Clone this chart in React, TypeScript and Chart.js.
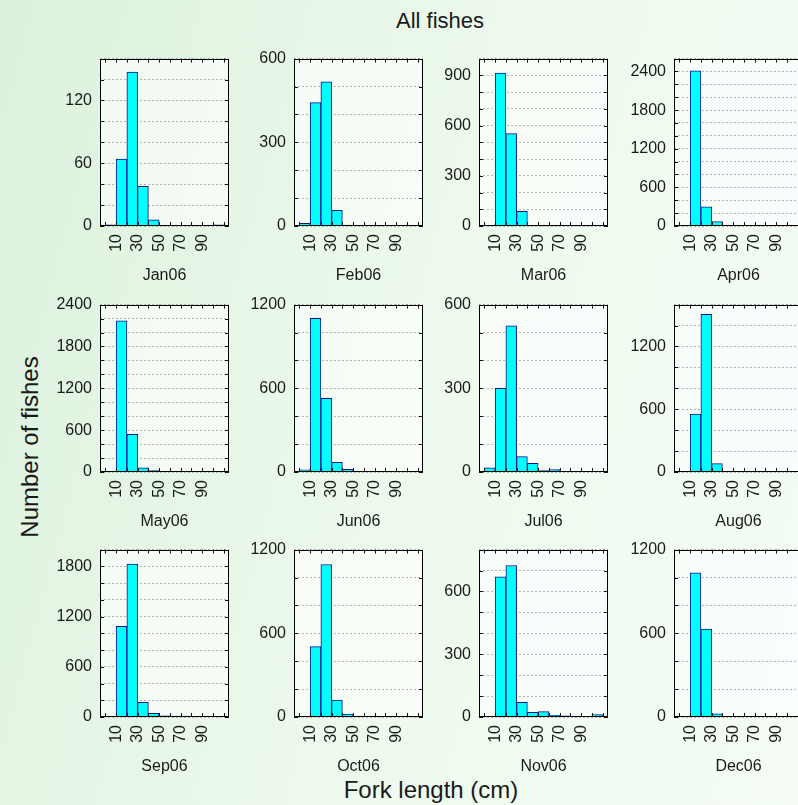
import { useEffect, useRef } from 'react';
import { Chart, registerables } from 'chart.js';

Chart.register(...registerables);

// ---------- data ----------
const binCenters = [5, 15, 25, 35, 45, 55, 65, 75, 85, 95, 105];
const xTickLabels = [10, 30, 50, 70, 90];
const xTickMarks = [0, 10, 20, 30, 40, 50, 60, 70, 80, 90, 100, 110];

const months = ['Jan06', 'Feb06', 'Mar06', 'Apr06', 'May06', 'Jun06', 'Jul06', 'Aug06', 'Sep06', 'Oct06', 'Nov06', 'Dec06'];

const jan06 = [1, 64, 147, 38, 6, 0, 0, 0, 0, 0, 1];
const feb06 = [10, 442, 517, 56, 3, 0, 0, 0, 0, 0, 0];
const mar06 = [1, 913, 552, 87, 4, 3, 0, 0, 0, 0, 0];
const apr06 = [0, 2410, 297, 70, 5, 2, 2, 1, 1, 0, 0];
const may06 = [0, 2167, 540, 60, 22, 8, 3, 0, 0, 0, 0];
const jun06 = [16, 1102, 528, 70, 19, 5, 2, 1, 0, 0, 0];
const jul06 = [15, 300, 524, 55, 31, 5, 9, 2, 2, 2, 1];
const aug06 = [0, 554, 1506, 80, 3, 1, 3, 1, 3, 0, 0];
const sep06 = [0, 1084, 1827, 174, 43, 14, 12, 12, 8, 6, 5];
const oct06 = [0, 505, 1093, 121, 21, 6, 2, 1, 1, 1, 0];
const nov06 = [0, 670, 724, 70, 22, 26, 8, 5, 2, 2, 12];
const dec06 = [0, 1033, 630, 23, 5, 1, 0, 0, 0, 0, 1];

const seriesByMonth = [jan06, feb06, mar06, apr06, may06, jun06, jul06, aug06, sep06, oct06, nov06, dec06];

const yMaxByMonth = [160, 600, 1000, 2600, 2400, 1200, 600, 1600, 2000, 1200, 800, 1200];
const yGridStepByMonth = [20, 100, 100, 200, 200, 200, 100, 200, 200, 200, 100, 200];
const yLabelStepByMonth = [60, 300, 300, 600, 600, 600, 300, 600, 600, 600, 300, 600];

// ---------- layout ----------
const FONT = '"Liberation Sans", Arial, Helvetica, sans-serif';
const colLefts = [100, 294, 479, 674];
const rowTops = [53, 299, 544];
const BOX_W = 129;
const BOX_H = 173;
const Y_W = 60;
const X_H = 60;
const PAD_T = 12;
const PAD_R = 12;
const CANVAS_W = Y_W + BOX_W + PAD_R;
const CANVAS_H = PAD_T + BOX_H + X_H;

const framePlugin = {
  id: 'frame',
  beforeDraw(chart: any) {
    const { ctx, chartArea: a } = chart;
    ctx.save();
    ctx.fillStyle = 'rgba(255,255,255,0.6)';
    ctx.fillRect(a.left, a.top, a.width, a.height);
    ctx.restore();
  },
  afterDraw(chart: any, _args: any, opts: any) {
    const { ctx, chartArea: a } = chart;
    const xs = chart.scales.x;
    const ys = chart.scales.y;
    ctx.save();
    ctx.strokeStyle = '#111';
    ctx.lineWidth = 1;
    ctx.beginPath();
    for (let v = 0; v <= opts.max; v += opts.step) {
      const py = Math.round(ys.getPixelForValue(v)) + 0.5;
      ctx.moveTo(a.left, py);
      ctx.lineTo(a.left + 4, py);
      ctx.moveTo(a.right - 4, py);
      ctx.lineTo(a.right, py);
    }
    for (const v of xTickMarks) {
      const px = Math.round(xs.getPixelForValue(v)) + 0.5;
      ctx.moveTo(px, a.bottom);
      ctx.lineTo(px, a.bottom - 4);
      ctx.moveTo(px, a.top);
      ctx.lineTo(px, a.top + 4);
    }
    ctx.stroke();
    // baseline line for empty bins
    ctx.strokeStyle = '#10108a';
    ctx.beginPath();
    const by = Math.round(a.bottom) - 1.5;
    ctx.moveTo(a.left, by);
    ctx.stroke();
    ctx.strokeStyle = '#000';
    ctx.strokeRect(Math.round(a.left) + 0.5, Math.round(a.top) + 0.5, Math.round(a.width) - 1, Math.round(a.height) - 1);
    ctx.restore();
  },
};

function Panel({ idx }: { idx: number }) {
  const ref = useRef<HTMLCanvasElement | null>(null);
  const col = idx % 4;
  const row = Math.floor(idx / 4);
  const left = colLefts[col] - Y_W;
  const top = rowTops[row] - PAD_T;

  useEffect(() => {
    const vals = seriesByMonth[idx];
    const max = yMaxByMonth[idx];
    const step = yGridStepByMonth[idx];
    const labelStep = yLabelStepByMonth[idx];
    const chart = new Chart(ref.current as HTMLCanvasElement, {
      type: 'bar',
      data: {
        datasets: [
          {
            data: binCenters.map((c, i) => ({ x: c, y: vals[i] })),
            backgroundColor: '#00ffff',
            borderColor: '#10108a',
            borderWidth: 1,
            barPercentage: 1,
            categoryPercentage: 1,
          },
        ],
      },
      options: {
        animation: false,
        responsive: false,
        devicePixelRatio: 1,
        layout: { padding: { top: PAD_T, right: PAD_R, left: 0, bottom: 0 } },
        plugins: {
          legend: { display: false },
          tooltip: { enabled: false },
          frame: { max, step },
        } as any,
        scales: {
          x: {
            type: 'linear',
            min: -5,
            max: 115,
            offset: false,
            afterBuildTicks: (s: any) => {
              s.ticks = xTickLabels.map((v) => ({ value: v }));
            },
            afterFit: (s: any) => {
              s.height = X_H;
            },
            ticks: {
              autoSkip: false,
              minRotation: 90,
              maxRotation: 90,
              padding: 8,
              color: '#1a1a1a',
              font: { family: FONT, size: 16 },
              callback: (v: any) => String(v),
            },
            grid: { display: false, drawTicks: false },
            border: { display: false },
            title: {
              display: true,
              text: months[idx],
              color: '#1a1a1a',
              font: { family: FONT, size: 16 },
              padding: { top: 0, bottom: 1 },
            },
          },
          y: {
            type: 'linear',
            min: 0,
            max,
            afterFit: (s: any) => {
              s.width = Y_W;
            },
            ticks: {
              stepSize: step,
              autoSkip: false,
              padding: 8,
              color: '#1a1a1a',
              font: { family: FONT, size: 16 },
              callback: (v: any) => (Number(v) % labelStep === 0 ? String(v) : ''),
            },
            grid: { color: '#b4b4b4', drawTicks: false, lineWidth: 1 },
            border: { display: false, dash: [2, 2] },
          },
        } as any,
      },
      plugins: [framePlugin],
    });
    return () => chart.destroy();
  }, [idx]);

  return (
    <canvas
      ref={ref}
      width={CANVAS_W}
      height={CANVAS_H}
      style={{ position: 'absolute', left, top, width: CANVAS_W, height: CANVAS_H }}
    />
  );
}

export default function App() {
  return (
    <div
      style={{
        position: 'fixed',
        left: 0,
        top: 0,
        width: 798,
        height: 805,
        overflow: 'hidden',
        background: 'linear-gradient(105deg, #dcf1dc 0%, #e8f7e8 35%, #f0fbf0 65%, #f4fcf4 100%)',
        fontFamily: FONT,
        color: '#1a1a1a',
      }}
    >
      <div style={{ position: 'absolute', left: 290, width: 300, top: 9, height: 24, lineHeight: '24px', fontSize: 22, textAlign: 'center' }}>
        All fishes
      </div>
      <div style={{ position: 'absolute', left: 281, width: 300, top: 778, height: 24, lineHeight: '24px', fontSize: 24, textAlign: 'center' }}>
        Fork length (cm)
      </div>
      <div
        style={{
          position: 'absolute',
          left: 30 - 150,
          top: 447 - 12,
          width: 300,
          height: 24,
          lineHeight: '24px',
          fontSize: 24,
          textAlign: 'center',
          transform: 'rotate(-90deg)',
        }}
      >
        Number of fishes
      </div>
      {months.map((m, i) => (
        <Panel key={m} idx={i} />
      ))}
    </div>
  );
}
